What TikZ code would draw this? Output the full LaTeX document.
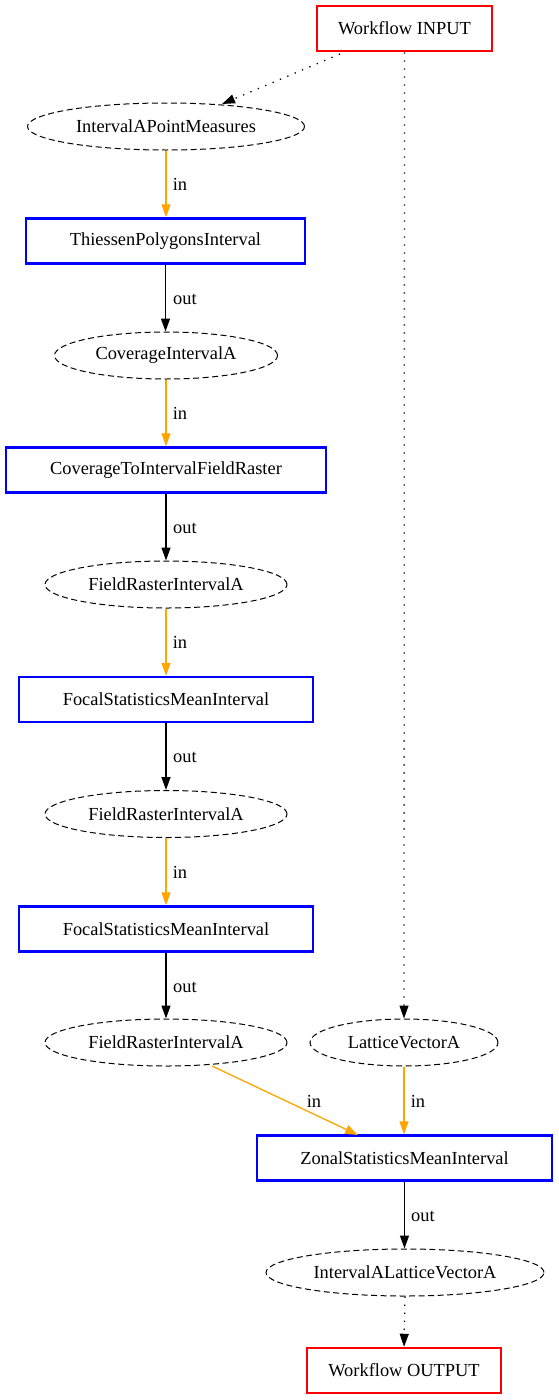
\documentclass[tikz,border=0pt]{standalone}
\usepackage{fontspec}
\setmainfont{Liberation Serif}
\usetikzlibrary{arrows.meta,shapes.geometric}
\definecolor{flowred}{RGB}{255,0,0}
\definecolor{procblue}{RGB}{0,0,255}
\definecolor{inorange}{RGB}{255,165,0}
\tikzset{
  txt/.style={font=\fontsize{18.4pt}{21pt}\selectfont},
  io/.style={txt, draw=flowred, line width=2.5pt, minimum height=45pt, inner sep=0pt},
  proc/.style={txt, draw=procblue, line width=2.5pt, minimum height=45pt, inner sep=0pt},
  data/.style={txt, draw, ellipse, dash pattern=on 6pt off 3.5pt, line width=1pt, minimum height=47pt, inner sep=0pt},
  tip/.style={-{Triangle[length=13pt,width=9pt]}},
  infl/.style={tip, draw=inorange, fill=inorange, line width=1.3pt},
  outfl/.style={tip, draw=black, line width=1.3pt},
  ctrl/.style={tip, draw=black, line width=1.3pt, dash pattern=on 1.3pt off 6.7pt},
  lbl/.style={txt, inner sep=0pt}
}
\begin{document}
\begin{tikzpicture}[x=1pt, y=-1pt]
\useasboundingbox (0,0) rectangle (559,1400);
% workflow boundary nodes
\node[io, minimum width=175pt] (win) at (404.5,28.5) {Workflow INPUT};
\node[io, minimum width=194pt] (wout) at (404,1370.5) {Workflow OUTPUT};
% data items
\node[data, minimum width=277pt] (d1) at (166,126.5) {IntervalAPointMeasures};
\node[data, minimum width=223pt] (d2) at (166,355.5) {CoverageIntervalA};
\node[data, minimum width=242pt] (d3) at (166,584.5) {FieldRasterIntervalA};
\node[data, minimum width=242pt] (d4) at (166,814) {FieldRasterIntervalA};
\node[data, minimum width=242pt] (d5) at (166,1042.5) {FieldRasterIntervalA};
\node[data, minimum width=188pt] (lv) at (404,1042.5) {LatticeVectorA};
\node[data, minimum width=278pt] (d6) at (405,1272.5) {IntervalALatticeVectorA};
% processing steps
\node[proc, minimum width=279pt] (p1) at (165.5,241) {ThiessenPolygonsInterval};
\node[proc, minimum width=320pt] (p2) at (166,470) {CoverageToIntervalFieldRaster};
\node[proc, minimum width=294pt] (p3) at (166,699.5) {FocalStatisticsMeanInterval};
\node[proc, minimum width=294pt] (p4) at (166,929) {FocalStatisticsMeanInterval};
\node[proc, minimum width=295pt] (p5) at (404.5,1158) {ZonalStatisticsMeanInterval};
% control flow
\coordinate (s1) at (340,54);
\coordinate (t1) at (222,104);
\draw[ctrl] (s1) -- (t1);
\draw[ctrl] (win.south) -- (lv.north);
\draw[ctrl] (d6.south) -- (wout.north);
% data flow
\draw[infl] (d1) -- (p1.north -| d1);
\draw[outfl] (p1) -- (d2.north -| p1);
\draw[infl] (d2) -- (p2.north -| d2);
\draw[outfl] (p2) -- (d3.north -| p2);
\draw[infl] (d3) -- (p3.north -| d3);
\draw[outfl] (p3) -- (d4.north -| p3);
\draw[infl] (d4) -- (p4.north -| d4);
\draw[outfl] (p4) -- (d5.north -| p4);
\coordinate (e5) at (212,1066);
\coordinate (z5) at (358,1135);
\draw[infl] (e5) -- (z5);
\draw[infl] (lv) -- (p5.north -| lv);
\draw[outfl] (p5) -- (d6.north -| p5);
% edge labels
\node[lbl] (l1) at (180,184) {in};
\node[lbl] (l2) at (185,299) {out};
\node[lbl] (l3) at (180,413) {in};
\node[lbl] (l4) at (185,528) {out};
\node[lbl] (l5) at (180,642) {in};
\node[lbl] (l6) at (185,757) {out};
\node[lbl] (l7) at (180,872) {in};
\node[lbl] (l8) at (185,987) {out};
\node[lbl] (l9) at (314,1101) {in};
\node[lbl] (l10) at (418,1101) {in};
\node[lbl] (l11) at (423,1216) {out};
\end{tikzpicture}
\end{document}
